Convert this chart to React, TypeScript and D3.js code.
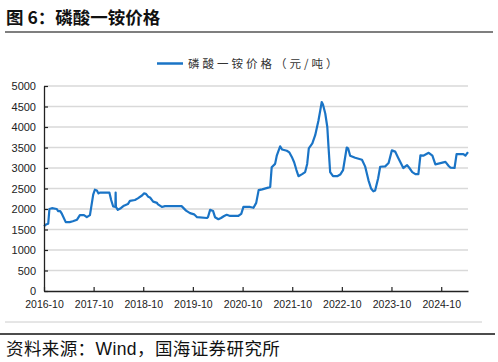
import { useEffect, useRef } from "react";
import * as d3 from "d3";

const dates: string[] = [
  "2016-10-01", "2016-10-15", "2016-11-01", "2016-11-10", "2016-11-28", "2017-01-03", "2017-01-12",
  "2017-01-28", "2017-02-10", "2017-03-10", "2017-04-08", "2017-05-01", "2017-06-01", "2017-06-22",
  "2017-07-22", "2017-08-12", "2017-09-04", "2017-09-28", "2017-10-10", "2017-10-25", "2017-11-06",
  "2017-11-16", "2018-01-25", "2018-02-07", "2018-02-22", "2018-03-10", "2018-03-12", "2018-03-14",
  "2018-03-28", "2018-04-19", "2018-05-12", "2018-06-10", "2018-06-25", "2018-08-01", "2018-08-22",
  "2018-09-22", "2018-10-06", "2018-10-21", "2018-11-06", "2018-11-20", "2018-12-13", "2019-01-10",
  "2019-01-15", "2019-02-15", "2019-03-10", "2019-07-10", "2019-08-12", "2019-09-10", "2019-10-10",
  "2019-11-01", "2020-01-12", "2020-01-20", "2020-02-05", "2020-02-27", "2020-03-12", "2020-04-06",
  "2020-04-25", "2020-05-18", "2020-06-06", "2020-07-01", "2020-08-29", "2020-09-21", "2020-10-07",
  "2020-11-25", "2020-12-20", "2021-01-09", "2021-01-27", "2021-02-22", "2021-04-07", "2021-04-22",
  "2021-05-03", "2021-05-28", "2021-06-10", "2021-07-04", "2021-07-19", "2021-08-22", "2021-09-10",
  "2021-09-28", "2021-10-15", "2021-11-01", "2021-11-16", "2021-12-13", "2022-01-04", "2022-01-19",
  "2022-01-31", "2022-02-26", "2022-03-19", "2022-04-12", "2022-04-25", "2022-05-06", "2022-05-15",
  "2022-06-01", "2022-06-16", "2022-06-25", "2022-07-07", "2022-07-28", "2022-08-28", "2022-09-19",
  "2022-10-10", "2022-11-06", "2022-11-16", "2022-12-01", "2023-01-07", "2023-02-26", "2023-03-21",
  "2023-04-15", "2023-05-04", "2023-05-21", "2023-06-03", "2023-06-25", "2023-07-10", "2023-08-16",
  "2023-09-10", "2023-10-04", "2023-10-28", "2023-11-19", "2023-12-04", "2023-12-27", "2024-01-24",
  "2024-02-10", "2024-03-02", "2024-03-25", "2024-04-16", "2024-05-01", "2024-05-22", "2024-07-01",
  "2024-07-28", "2024-08-19", "2024-09-25", "2024-11-01", "2024-11-25", "2024-12-07", "2025-01-07",
  "2025-01-22", "2025-03-13", "2025-03-28", "2025-04-16",
];

const prices: number[] = [
  1580, 1620, 1640, 2000, 2020, 2000, 1950,
  1950, 1880, 1680, 1680, 1700, 1740, 1850,
  1850, 1800, 1850, 2350, 2470, 2450, 2380,
  2400, 2400, 2220, 2060, 2050, 2400, 2050,
  1980, 2020, 2080, 2120, 2200, 2220, 2260,
  2330, 2380, 2370, 2300, 2280, 2180, 2150,
  2120, 2050, 2070, 2070, 1960, 1900, 1870,
  1800, 1780, 1800, 1980, 1950, 1800, 1750,
  1780, 1830, 1860, 1830, 1830, 1880, 2050,
  2050, 2030, 2150, 2460, 2480, 2520, 2540,
  3020, 3100, 3310, 3530, 3450, 3420, 3380,
  3270, 3140, 2950, 2800, 2850, 2900, 3100,
  3480, 3600, 3800, 4160, 4400, 4610, 4550,
  4330, 4000, 3510, 2900, 2800, 2800, 2840,
  2950, 3500, 3480, 3300, 3250, 3200, 3040,
  2700, 2500, 2430, 2450, 2750, 3030, 3040,
  3120, 3430, 3400, 3250, 3150, 3000, 3070,
  3000, 2900, 2850, 2850, 3310, 3300, 3370,
  3300, 3090, 3120, 3150, 3050, 3010, 3000,
  3340, 3340, 3300, 3390,
];

const xTickLabels: string[] = [
  "2016-10", "2017-10", "2018-10", "2019-10", "2020-10",
  "2021-10", "2022-10", "2023-10", "2024-10",
];

const yTicks: number[] = [0, 500, 1000, 1500, 2000, 2500, 3000, 3500, 4000, 4500, 5000];

const seriesName = "磷酸一铵价格（元/吨）";
const lineColor = "#1a74c6";
const numFont = "'Liberation Sans', Arial, sans-serif";
const cjkFont = "'Noto Sans CJK SC', sans-serif";

const margin = { top: 86, right: 30, bottom: 71, left: 44 };
const W = 498;
const H = 362;
const width = W - margin.left - margin.right;
const height = H - margin.top - margin.bottom;

const parseDay = d3.timeParse("%Y-%m-%d");
const parseMonth = d3.timeParse("%Y-%m");

export default function App() {
  const xAxisRef = useRef<SVGGElement>(null);
  const yAxisRef = useRef<SVGGElement>(null);

  const data = dates.map((d, i) => ({ date: parseDay(d) as Date, value: prices[i] }));

  const x = d3
    .scaleTime()
    .domain(d3.extent(data, (d) => d.date) as [Date, Date])
    .range([0, width]);
  const y = d3.scaleLinear().domain([0, 5000]).range([height, 0]);

  const line = d3
    .line<{ date: Date; value: number }>()
    .x((d) => x(d.date))
    .y((d) => y(d.value));

  useEffect(() => {
    if (xAxisRef.current) {
      const g = d3.select(xAxisRef.current);
      g.call(
        d3
          .axisBottom(x)
          .tickValues(xTickLabels.map((t) => parseMonth(t) as Date))
          .tickFormat((d) => d3.timeFormat("%Y-%m")(d as Date))
          .tickSizeInner(-4)
          .tickSizeOuter(0)
          .tickPadding(10)
      );
      g.select(".domain").attr("stroke", "#222").attr("stroke-width", 1.3);
      g.selectAll(".tick line").attr("stroke", "#222").attr("stroke-width", 1.2);
      g.selectAll("text")
        .attr("font-family", numFont)
        .attr("font-size", 10.5)
        .attr("fill", "#222");
    }
    if (yAxisRef.current) {
      const g = d3.select(yAxisRef.current);
      g.call(
        d3
          .axisLeft(y)
          .tickValues(yTicks)
          .tickFormat(d3.format("d"))
          .tickSizeInner(-4)
          .tickSizeOuter(0)
          .tickPadding(8)
      );
      g.select(".domain").attr("stroke", "#222").attr("stroke-width", 1.3);
      g.selectAll(".tick line").attr("stroke", "#222").attr("stroke-width", 1.2);
      g.selectAll("text")
        .attr("font-family", numFont)
        .attr("font-size", 11)
        .attr("fill", "#222");
    }
  }, []);

  return (
    <svg
      width={W}
      height={H}
      style={{ position: "absolute", left: 0, top: 0, background: "#fff" }}
    >
      <text x={6} y={24} fontFamily={cjkFont} fontWeight="bold" fontSize={17.5} fill="#111">
        图 6：磷酸一铵价格
      </text>
      <line x1={5} x2={493} y1={32} y2={32} stroke="#555" strokeWidth={1.5} />

      <line x1={157} x2={183} y1={63.5} y2={63.5} stroke={lineColor} strokeWidth={2.5} />
      <text
        x={188}
        y={67.5}
        fontFamily={cjkFont}
        fontSize={11.5}
        letterSpacing={3}
        fill="#333"
      >
        {seriesName}
      </text>

      <g transform={`translate(${margin.left},${margin.top})`}>
        {yTicks
          .filter((t) => t > 0)
          .map((t) => (
            <line
              key={`grid-${t}`}
              x1={0}
              x2={width}
              y1={y(t)}
              y2={y(t)}
              stroke="#d9d9d9"
              strokeWidth={1.5}
            />
          ))}
        <path d={line(data) ?? ""} fill="none" stroke={lineColor} strokeWidth={2.2} strokeLinejoin="round" />
        <g ref={yAxisRef} />
        <g ref={xAxisRef} transform={`translate(0,${height})`} />
      </g>

      <line x1={5} x2={482} y1={322} y2={322} stroke="#ccc" strokeWidth={1} />
      <line x1={0} x2={495} y1={334} y2={334} stroke="#111" strokeWidth={1.5} />
      <text x={6} y={355} fontFamily={cjkFont} fontSize={17.5} letterSpacing={0.4} fill="#111">
        资料来源：<tspan fontFamily={numFont}>Wind</tspan>，国海证券研究所
      </text>
    </svg>
  );
}
